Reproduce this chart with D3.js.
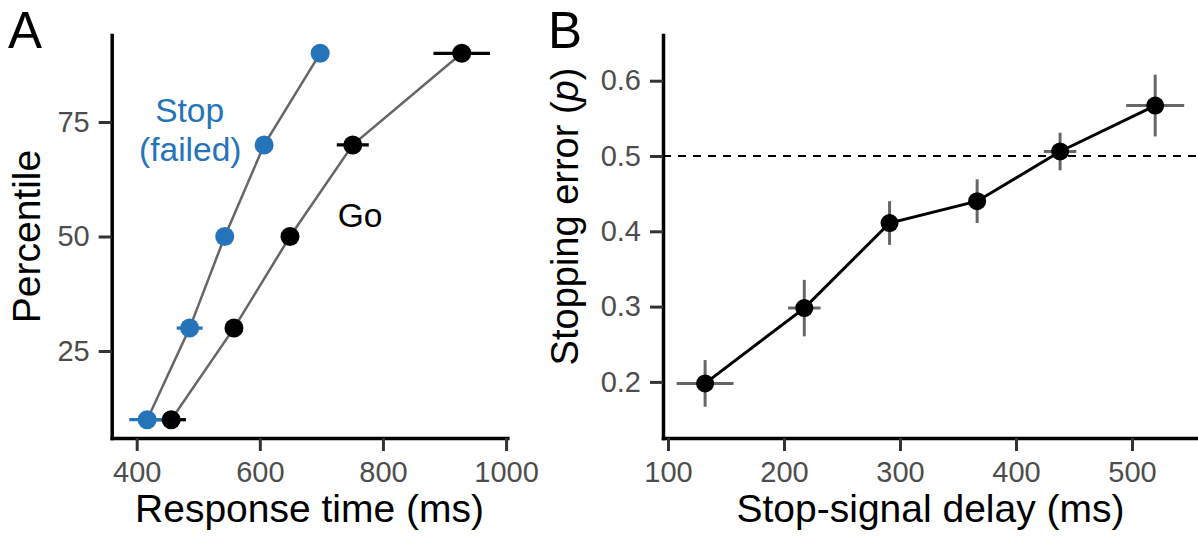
<!DOCTYPE html>
<html>
<head>
<meta charset="utf-8">
<script src="https://cdn.jsdelivr.net/npm/d3@7"></script>
<style>
  html, body { margin: 0; padding: 0; background: #fff; }
  svg { display: block; font-family: "Liberation Sans", Arial, Helvetica, sans-serif; }
</style>
</head>
<body>
<script>
// Panel A: response-time percentiles for go trials and failed stop trials
const percentiles = [10, 30, 50, 70, 90];
const goRT = [456, 558, 649, 751, 928];
const goRTse = [24, 10, 10, 26, 46];
const stopRT = [417, 486, 543, 607, 698];
const stopRTse = [29, 21, 8, 8, 8];
const rtTicks = [400, 600, 800, 1000];
const pctTicks = [25, 50, 75];

// Panel B: stopping error as a function of stop-signal delay
const ssd = [132, 217.5, 291, 366.5, 438, 520];
const ssdSE = [24.5, 14, 6, 6, 14, 25];
const stopErr = [0.198, 0.298, 0.411, 0.440, 0.506, 0.567];
const stopErrSE = [0.031, 0.0375, 0.029, 0.029, 0.025, 0.041];
const ssdTicks = [100, 200, 300, 400, 500];
const errTicks = [0.2, 0.3, 0.4, 0.5, 0.6];
const chanceLevel = 0.5;

const W = 1198, H = 539;
const blue = "#2574b9";
const tickFont = 29, titleFont = 39;

const svg = d3.select("body").append("svg").attr("width", W).attr("height", H);

function styleAxis(g) {
  g.select(".domain").attr("stroke", "#000").attr("stroke-width", 3.5).attr("stroke-linecap", "square");
  g.selectAll(".tick line").attr("stroke", "#333").attr("stroke-width", 3);
  g.selectAll(".tick text").attr("fill", "#4d4d4d").attr("font-size", tickFont)
    .attr("font-family", "'Liberation Sans', Arial, Helvetica, sans-serif");
}

// ---------- Panel A ----------
const xA = d3.scaleLinear().domain([359.4, 1002]).range([111.7, 507.3]);
const yA = d3.scaleLinear().domain([6, 94]).range([438, 35]);

const goData = percentiles.map((p, i) => ({ p, rt: goRT[i], se: goRTse[i] }));
const stopData = percentiles.map((p, i) => ({ p, rt: stopRT[i], se: stopRTse[i] }));

const gA = svg.append("g");
gA.append("g").attr("transform", "translate(0,438)")
  .call(d3.axisBottom(xA).tickValues(rtTicks).tickFormat(d3.format("d"))
    .tickSize(13).tickPadding(10).tickSizeOuter(0))
  .call(styleAxis);
gA.append("g").attr("transform", "translate(111.7,0)")
  .call(d3.axisLeft(yA).tickValues(pctTicks).tickSize(13).tickPadding(9).tickSizeOuter(0))
  .call(styleAxis);

const lineA = d3.line().x(d => xA(d.rt)).y(d => yA(d.p));
[goData, stopData].forEach(data => {
  gA.append("path").datum(data).attr("d", lineA)
    .attr("fill", "none").attr("stroke", "#666").attr("stroke-width", 2.5);
});

[[goData, "#000"], [stopData, blue]].forEach(([data, col]) => {
  gA.selectAll(null).data(data).enter().append("line")
    .attr("x1", d => xA(d.rt - d.se)).attr("x2", d => xA(d.rt + d.se))
    .attr("y1", d => yA(d.p)).attr("y2", d => yA(d.p))
    .attr("stroke", col).attr("stroke-width", 3.3);
});
[[goData, "#000"], [stopData, blue]].forEach(([data, col]) => {
  gA.selectAll(null).data(data).enter().append("circle")
    .attr("cx", d => xA(d.rt)).attr("cy", d => yA(d.p)).attr("r", 9.5)
    .attr("fill", col);
});

gA.append("text").attr("x", xA(486)).attr("y", yA(75.1)).attr("text-anchor", "middle")
  .attr("font-size", 33.5).attr("fill", blue).text("Stop");
gA.append("text").attr("x", xA(487)).attr("y", yA(66.4)).attr("text-anchor", "middle")
  .attr("font-size", 33.5).attr("fill", blue).text("(failed)");
gA.append("text").attr("x", xA(763)).attr("y", yA(52)).attr("text-anchor", "middle")
  .attr("font-size", 33.5).attr("fill", "#000").text("Go");

gA.append("text").attr("x", 309.5).attr("y", 522).attr("text-anchor", "middle")
  .attr("font-size", titleFont).text("Response time (ms)");
gA.append("text").attr("transform", "translate(40,236.5) rotate(-90)").attr("text-anchor", "middle")
  .attr("font-size", titleFont).text("Percentile");
svg.append("text").attr("x", 8).attr("y", 48.3).attr("font-size", 51).text("A");

// ---------- Panel B ----------
const xB = d3.scaleLinear().domain([95.7, 556.9]).range([663, 1198]);
const yB = d3.scaleLinear().domain([0.1255, 0.6607]).range([438, 35]);
const bData = ssd.map((s, i) => ({ s, se: ssdSE[i], p: stopErr[i], pse: stopErrSE[i] }));

const gB = svg.append("g");
gB.append("g").attr("transform", "translate(0,438)")
  .call(d3.axisBottom(xB).tickValues(ssdTicks).tickSize(13).tickPadding(10).tickSizeOuter(0))
  .call(styleAxis);
gB.append("g").attr("transform", "translate(663,0)")
  .call(d3.axisLeft(yB).tickValues(errTicks).tickFormat(d3.format(".1f")).tickSize(13).tickPadding(9).tickSizeOuter(0))
  .call(styleAxis);

gB.append("line").attr("x1", xB.range()[0]).attr("x2", xB.range()[1])
  .attr("y1", yB(chanceLevel)).attr("y2", yB(chanceLevel))
  .attr("stroke", "#000").attr("stroke-width", 2).attr("stroke-dasharray", "8,7");

gB.selectAll(null).data(bData).enter().append("line")
  .attr("x1", d => xB(d.s)).attr("x2", d => xB(d.s))
  .attr("y1", d => yB(d.p - d.pse)).attr("y2", d => yB(d.p + d.pse))
  .attr("stroke", "#666").attr("stroke-width", 3);
gB.selectAll(null).data(bData).enter().append("line")
  .attr("x1", d => xB(d.s - d.se)).attr("x2", d => xB(d.s + d.se))
  .attr("y1", d => yB(d.p)).attr("y2", d => yB(d.p))
  .attr("stroke", "#666").attr("stroke-width", 3);

gB.append("path").datum(bData)
  .attr("d", d3.line().x(d => xB(d.s)).y(d => yB(d.p)))
  .attr("fill", "none").attr("stroke", "#000").attr("stroke-width", 3);

gB.selectAll(null).data(bData).enter().append("circle")
  .attr("cx", d => xB(d.s)).attr("cy", d => yB(d.p)).attr("r", 9)
  .attr("fill", "#000");

gB.append("text").attr("x", 930.5).attr("y", 522).attr("text-anchor", "middle")
  .attr("font-size", titleFont).text("Stop-signal delay (ms)");
const yt = gB.append("text").attr("transform", "translate(578,216.5) rotate(-90)")
  .attr("text-anchor", "middle").attr("font-size", 38);
yt.append("tspan").text("Stopping error (");
yt.append("tspan").attr("font-style", "italic").text("p");
yt.append("tspan").text(")");
svg.append("text").attr("x", 548).attr("y", 48.3).attr("font-size", 51).text("B");
</script>
</body>
</html>
